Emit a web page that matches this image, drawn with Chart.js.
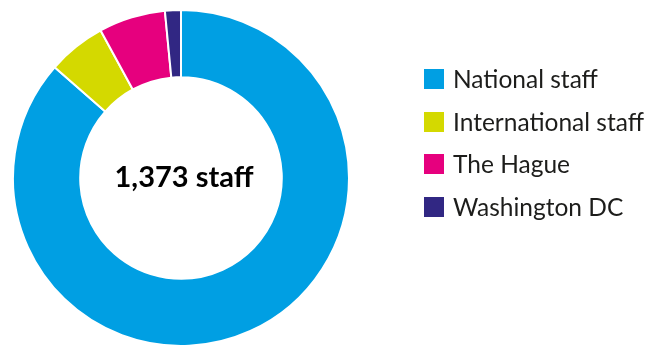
<!DOCTYPE html>
<html>
<head>
<meta charset="utf-8">
<script src="https://cdn.jsdelivr.net/npm/chart.js@4/dist/chart.umd.min.js"></script>
<style>
  html, body { margin: 0; padding: 0; background: #fff; overflow: hidden; }
  #wrap { position: relative; width: 647px; height: 345px; overflow: hidden; }
  #chartBox { position: absolute; left: 0; top: 0; width: 647px; height: 347px; }
  #legend { position: absolute; left: 424px; top: 69px; margin: 0; padding: 0; list-style: none;
            font-family: Lato, "Noto Sans", sans-serif; font-size: 24.5px; color: #1d1d1b; }
  #legend li { height: 42.7px; display: flex; align-items: flex-start; white-space: nowrap; }
  #legend span.box { display: inline-block; width: 20px; height: 20px; margin-right: 9px; }
  #legend span.txt { line-height: 20px; margin-top: 0px; }
</style>
</head>
<body>
<div id="wrap">
  <div id="chartBox"><canvas id="staffChart"></canvas></div>
  <ul id="legend"></ul>
</div>
<script>
var categories = ['National staff', 'International staff', 'The Hague', 'Washington DC'];
var staffCounts = [1187, 77, 88, 21];
var sliceColors = ['#009fe3', '#d4d900', '#e6007e', '#312783'];

// total in the middle of the ring
var centerText = {
    id: 'centerText',
    afterDraw: function (chart) {
        var meta = chart.getDatasetMeta(0);
        if (!meta.data.length) return;
        var arc = meta.data[0];
        var total = staffCounts.reduce(function (a, b) { return a + b; }, 0);
        var ctx = chart.ctx;
        ctx.save();
        ctx.font = 'bold 29px Lato, "Noto Sans", sans-serif';
        ctx.fillStyle = '#000';
        ctx.textAlign = 'center';
        ctx.textBaseline = 'middle';
        ctx.fillText(total.toLocaleString('en-US') + ' staff', arc.x + 3, arc.y);
        ctx.restore();
    }
};

var ctx = document.getElementById('staffChart').getContext('2d');
var staffChart = new Chart(ctx, {
    type: 'doughnut',
    data: {
        labels: categories,
        datasets: [{
            data: staffCounts,
            backgroundColor: sliceColors,
            borderColor: '#ffffff',
            borderWidth: 2
        }]
    },
    options: {
        responsive: true,
        maintainAspectRatio: false,
        animation: false,
        cutout: '60%',
        layout: { padding: { left: 0, top: 9, right: 285, bottom: 0 } },
        plugins: {
            legend: { display: false },
            tooltip: { enabled: false }
        }
    },
    plugins: [centerText]
});

// html legend built from the same arrays
var legendEl = document.getElementById('legend');
categories.forEach(function (label, i) {
    var li = document.createElement('li');
    li.innerHTML = '<span class="box" style="background:' + sliceColors[i] + '"></span><span class="txt">' + label + '</span>';
    legendEl.appendChild(li);
});
</script>
</body>
</html>
